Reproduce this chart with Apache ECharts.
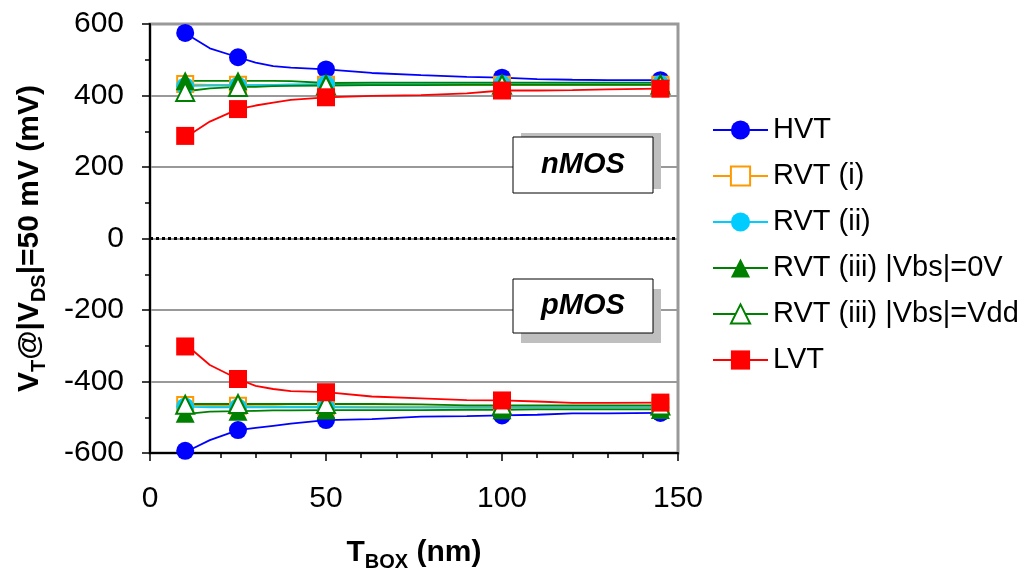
<!DOCTYPE html>
<html>
<head>
<meta charset="utf-8">
<script src="https://cdn.jsdelivr.net/npm/echarts@6/dist/echarts.min.js"></script>
<style>
  html, body { margin: 0; padding: 0; background: #fff; }
  #chart { width: 1026px; height: 568px; }
</style>
</head>
<body>
<div id="chart"></div>
<script>
// T_BOX sample points of the simulated curves (nm)
const tBox = [10, 12, 17, 25, 30, 35, 40, 50, 63, 77, 90, 100, 110, 120, 130, 145];
// points that carry a marker
const marked = [10, 25, 50, 100, 145];

// nMOS branch (mV)
const hvtN   = [575, 562, 532, 507, 492, 482, 478, 473, 463, 457, 452, 450, 446, 444, 443, 443];
const rvt1N  = [432, 431, 430, 430, 430, 430, 430, 430, 430, 430, 430, 430, 430, 430, 430, 430];
const rvt2N  = [426, 427, 428, 428, 429, 430, 431, 432, 432, 432, 432, 432, 432, 432, 432, 432];
const rvt3aN = [441, 441, 441, 441, 441, 441, 440, 435, 436, 436, 436, 436, 436, 436, 436, 436];
const rvt3bN = [410, 414, 420, 424, 424, 426, 427, 428, 429, 429, 430, 430, 430, 430, 430, 430];
const lvtN   = [287, 295, 327, 362, 372, 380, 388, 395, 399, 401, 406, 414, 414, 415, 417, 419];

// pMOS branch (mV)
const hvtP   = [-594, -588, -564, -536, -530, -524, -518, -508, -505, -498, -497, -495, -493, -489, -489, -488];
const rvt1P  = [-466, -467, -468, -468, -469, -469, -470, -470, -470, -470, -470, -470, -470, -470, -470, -470];
const rvt2P  = [-470, -471, -472, -472, -472, -472, -472, -472, -473, -473, -473, -473, -473, -473, -473, -473];
const rvt3aP = [-489, -489, -484, -483, -482, -481, -481, -480, -480, -480, -479, -479, -478, -478, -478, -478];
const rvt3bP = [-465, -463, -463, -463, -463, -463, -463, -463, -463, -464, -467, -467, -467, -467, -467, -467];
const lvtP   = [-302, -312, -354, -393, -412, -421, -427, -430, -442, -447, -452, -453, -456, -460, -460, -459];

const FONT = "'Liberation Sans', Arial, sans-serif";

// one entry per legend item
const styles = [
  { name: 'HVT', color: '#0000ff', symbol: 'circle', size: 18, n: hvtN, p: hvtP },
  { name: 'RVT (i)', color: '#ff9900', symbol: 'emptyRect', size: 16, n: rvt1N, p: rvt1P },
  { name: 'RVT (ii)', color: '#00ccff', symbol: 'circle', size: 18, n: rvt2N, p: rvt2P },
  { name: 'RVT (iii) |Vbs|=0V', color: '#008000', symbol: 'triangle', size: 19, n: rvt3aN, p: rvt3aP },
  { name: 'RVT (iii) |Vbs|=Vdd', color: '#008000', symbol: 'emptyTriangle', size: 18, n: rvt3bN, p: rvt3bP },
  { name: 'LVT', color: '#ff0000', symbol: 'rect', size: 18, n: lvtN, p: lvtP }
];

function toData(vals) {
  return tBox.map((t, i) => {
    if (marked.includes(t)) return [t, vals[i]];
    return { value: [t, vals[i]], symbol: 'none' };
  });
}

const series = [];
styles.forEach((s) => {
  ['n', 'p'].forEach((branch) => {
    series.push({
      name: s.name,
      type: 'line',
      data: toData(s[branch]),
      symbol: s.symbol,
      symbolSize: s.size,
      showAllSymbol: true,
      lineStyle: { color: s.color, width: 1.8 },
      itemStyle: { color: s.color, borderColor: s.color, borderWidth: s.symbol.startsWith('empty') ? 2 : 0 },
      emphasis: { disabled: true }
    });
  });
});

// dotted zero line
series[0].markLine = {
  silent: true,
  symbol: ['none', 'none'],
  label: { show: false },
  lineStyle: { color: '#000', type: [3, 3], width: 3 },
  data: [{ yAxis: 0 }]
};

function tag(label, x, y, w, h, dx, dy) {
  return {
    type: 'group',
    children: [
      { type: 'rect', shape: { x: x + dx, y: y + dy, width: w, height: h }, style: { fill: '#bfbfbf' }, z: 10 },
      { type: 'rect', shape: { x: x, y: y, width: w, height: h }, style: { fill: '#fff', stroke: '#000', lineWidth: 1 }, z: 11 },
      {
        type: 'text', x: x + w / 2, y: y + h / 2, z: 12,
        style: {
          text: label, fill: '#000', font: 'italic bold 29px ' + FONT,
          textAlign: 'center', textVerticalAlign: 'middle'
        }
      }
    ]
  };
}

const chart = echarts.init(document.getElementById('chart'));
chart.setOption({
  animation: false,
  textStyle: { fontFamily: FONT },
  grid: {
    left: 150, right: 348, top: 24, bottom: 115,
    containLabel: false,
    outerBoundsMode: 'none',
    show: true, borderColor: '#999', borderWidth: 3
  },
  legend: {
    orient: 'vertical',
    left: 707,
    top: 110,
    itemWidth: 55,
    itemHeight: 24,
    itemGap: 16,
    textStyle: { fontSize: 29, color: '#000', fontFamily: FONT, lineHeight: 30 },
    data: styles.map((s) => s.name)
  },
  xAxis: {
    type: 'value',
    min: 0, max: 150, interval: 50,
    name: '{b|T}{s|BOX}{b| (nm)}',
    nameLocation: 'middle',
    nameGap: 85,
    nameTextStyle: {
      rich: {
        b: { fontSize: 30, fontWeight: 'bold', color: '#000', fontFamily: FONT },
        s: { fontSize: 20, fontWeight: 'bold', color: '#000', fontFamily: FONT, verticalAlign: 'bottom', padding: [0, 0, -4, 0] }
      }
    },
    axisLine: { onZero: false, lineStyle: { color: '#000', width: 2 } },
    axisTick: { length: 8, lineStyle: { color: '#000', width: 1.5 } },
    minorTick: { show: true, splitNumber: 5, length: 5, lineStyle: { color: '#000', width: 1.5 } },
    axisLabel: { fontSize: 30, color: '#000', margin: 31, fontFamily: FONT },
    splitLine: { show: false }
  },
  yAxis: {
    type: 'value',
    min: -600, max: 600, interval: 200,
    name: '{b|V}{s|T}{b|@|V}{s|DS}{b||=50 mV (mV)}',
    nameLocation: 'middle',
    nameGap: 105,
    nameTextStyle: {
      rich: {
        b: { fontSize: 30, fontWeight: 'bold', color: '#000', fontFamily: FONT },
        s: { fontSize: 20, fontWeight: 'bold', color: '#000', fontFamily: FONT, verticalAlign: 'bottom', padding: [0, 0, -4, 0] }
      }
    },
    axisLine: { show: true, lineStyle: { color: '#000', width: 2 } },
    axisTick: { length: 8, lineStyle: { color: '#000', width: 1.5 } },
    minorTick: { show: true, splitNumber: 2, length: 5, lineStyle: { color: '#000', width: 1.5 } },
    axisLabel: { fontSize: 30, color: '#000', margin: 26, fontFamily: FONT },
    splitLine: { show: true, lineStyle: { color: '#999', width: 2 } }
  },
  graphic: [
    tag('nMOS', 513, 137, 140, 56, 8, -4),
    tag('pMOS', 513, 279, 140, 54, 8, 10)
  ],
  series: series
});
</script>
</body>
</html>
